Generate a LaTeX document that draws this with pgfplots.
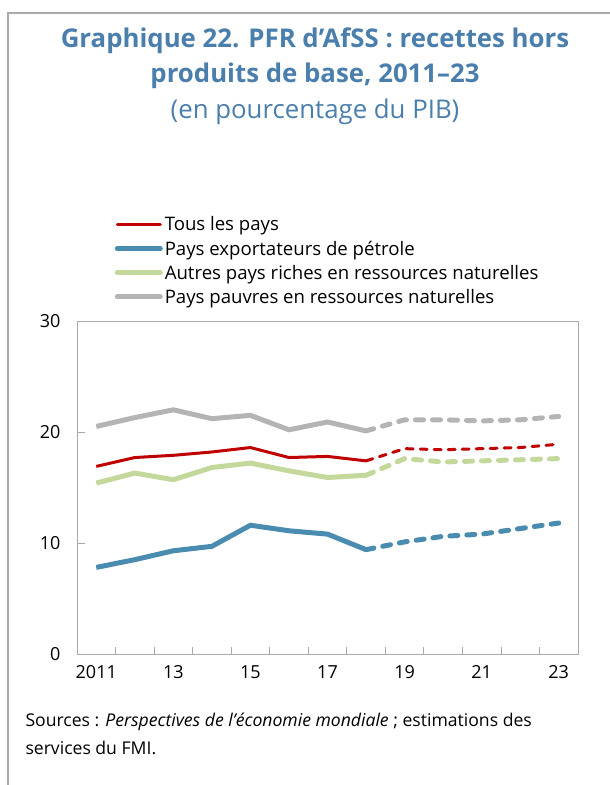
\documentclass[border=0pt]{standalone}
\usepackage{pgfplots}
\pgfplotsset{compat=1.18}
\usepackage{fontspec}
\setmainfont{Open Sans}
\definecolor{ttl}{RGB}{74,126,172}
\definecolor{cred}{RGB}{192,0,0}
\definecolor{cblue}{RGB}{74,140,176}
\definecolor{cgreen}{RGB}{196,216,156}
\definecolor{cgray}{RGB}{180,180,180}
\definecolor{axgray}{RGB}{170,170,170}
\begin{document}
\begin{tikzpicture}[x=1pt,y=1pt]
\path[use as bounding box] (0,0) rectangle (610,785);
\draw[axgray,line width=1.5pt] (8,0) -- (8,772) -- (610,772);
\node[ttl,font=\fontsize{25.8}{30}\selectfont\bfseries] at (315,744) {Graphique 22. PFR d’AfSS : recettes hors};
\node[ttl,font=\fontsize{25.8}{30}\selectfont\bfseries] at (315,709) {produits de base, 2011–23};
\node[ttl,font=\fontsize{25.8}{30}\selectfont] at (315,673) {(en pourcentage du PIB)};
\node[anchor=west,font=\fontsize{17.6}{20}\selectfont] at (22,63) {Sources : \textit{Perspectives de l’économie mondiale} ; estimations des};
\node[anchor=west,font=\fontsize{17.6}{20}\selectfont] at (22,37) {services du FMI.};
\begin{axis}[
  at={(77pt,131pt)}, anchor=south west,
  width=501pt, height=333pt, scale only axis,
  xmin=2010.5, xmax=2023.5, ymin=0, ymax=30,
  axis line style={axgray,line width=1pt},
  xtick={2011,2013,...,2023},
  xticklabels={2011,13,15,17,19,21,23},
  minor xtick={2011.5,2012.5,...,2022.5},
  major x tick style={draw=none},
  minor x tick style={axgray,line width=0.8pt},
  minor tick length=7pt,
  ytick={0,10,20,30},
  y tick style={axgray,line width=0.8pt},
  major tick length=8pt,
  tick align=inside,
  xtick pos=bottom, ytick pos=left,
  ticklabel style={font=\fontsize{18}{20}\selectfont},
  /pgf/number format/assume math mode=true,
  xticklabel style={yshift=-8pt},
  yticklabel style={xshift=-13pt},
  legend style={draw=none,fill=none,at={(0.075,1.32)},anchor=north west,
    font=\fontsize{18.6}{20}\selectfont,row sep=4.5pt,inner sep=0pt,
    /tikz/every even column/.append style={column sep=0pt}},
  legend cell align=left,
  legend image code/.code={\draw[#1,line cap=round] (0pt,0pt) -- (43pt,0pt);},
  clip=false,
]
\addplot[cred,line width=3pt] coordinates {(2011,16.9)(2012,17.7)(2013,17.9)(2014,18.2)(2015,18.6)(2016,17.7)(2017,17.8)(2018,17.4)};
\addlegendentry{Tous les pays}
\addplot[cblue,line width=5pt] coordinates {(2011,7.8)(2012,8.5)(2013,9.3)(2014,9.7)(2015,11.6)(2016,11.1)(2017,10.8)(2018,9.4)};
\addlegendentry{Pays exportateurs de pétrole}
\addplot[cgreen,line width=5pt] coordinates {(2011,15.4)(2012,16.3)(2013,15.7)(2014,16.8)(2015,17.2)(2016,16.5)(2017,15.9)(2018,16.1)};
\addlegendentry{Autres pays riches en ressources naturelles}
\addplot[cgray,line width=5pt] coordinates {(2011,20.5)(2012,21.3)(2013,22.0)(2014,21.2)(2015,21.5)(2016,20.2)(2017,20.9)(2018,20.1)};
\addlegendentry{Pays pauvres en ressources naturelles}
\addplot[forget plot,cred,line width=3pt,line cap=round,dash pattern=on 7pt off 7pt] coordinates {(2018,17.4)(2019,18.5)(2020,18.4)(2021,18.5)(2022,18.6)(2023,18.9)};
\addplot[forget plot,cblue,line width=5pt,line cap=round,dash pattern=on 8pt off 9pt] coordinates {(2018,9.4)(2019,10.1)(2020,10.6)(2021,10.8)(2022,11.3)(2023,11.8)};
\addplot[forget plot,cgreen,line width=5pt,line cap=round,dash pattern=on 8pt off 9pt] coordinates {(2018,16.1)(2019,17.6)(2020,17.3)(2021,17.4)(2022,17.5)(2023,17.6)};
\addplot[forget plot,cgray,line width=5pt,line cap=round,dash pattern=on 8pt off 9pt] coordinates {(2018,20.1)(2019,21.1)(2020,21.1)(2021,21.0)(2022,21.1)(2023,21.4)};
\end{axis}
\end{tikzpicture}
\end{document}
